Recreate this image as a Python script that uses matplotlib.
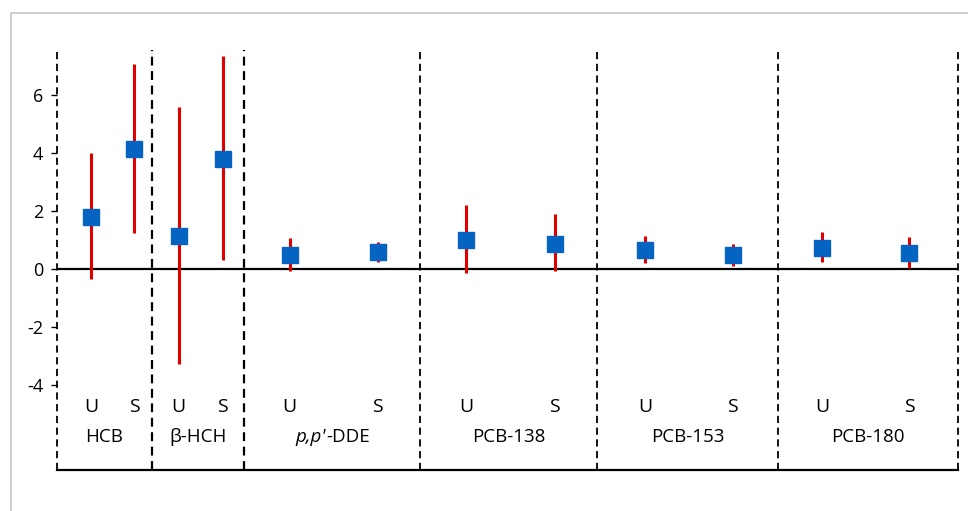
import matplotlib
matplotlib.use("Agg")
import matplotlib.pyplot as plt
from matplotlib.patches import Rectangle
from matplotlib.transforms import offset_copy

# data
groups = ["HCB", "β-HCH", "p,p'-DDE", "PCB-138", "PCB-153", "PCB-180"]
sub_labels = ["U", "S"]
mean_u = [1.8, 1.15, 0.48, 1.0, 0.65, 0.74]
low_u = [-0.35, -3.28, -0.07, -0.14, 0.2, 0.24]
high_u = [4.0, 5.6, 1.07, 2.2, 1.15, 1.28]
mean_s = [4.12, 3.8, 0.59, 0.86, 0.48, 0.55]
low_s = [1.24, 0.31, 0.25, -0.07, 0.12, 0.03]
high_s = [7.07, 7.34, 0.94, 1.9, 0.86, 1.12]
yticks = [-4, -2, 0, 2, 4, 6]

# layout: group edges along the x axis and where U / S sit inside each group
edges = [0, 95, 187, 363, 540, 721, 901]
frac_u = [0.36, 0.29, 0.26, 0.26, 0.265, 0.245]
frac_s = [0.81, 0.77, 0.76, 0.76, 0.75, 0.73]

plt.rcParams["font.family"] = ["Open Sans", "DejaVu Sans"]
plt.rcParams["axes.unicode_minus"] = False

fig = plt.figure(figsize=(9.68, 5.11), dpi=100)
fig.patches.append(Rectangle((11 / 968, -0.1), 1.2, 1.1 - 13 / 511,
                             transform=fig.transFigure, fill=False,
                             edgecolor="#c8c8c8", linewidth=1.2))
ax = fig.add_axes([57 / 968, 1 - 470 / 511, 901 / 968, 420 / 511])
ax.set_xlim(edges[0], edges[-1])
ax.set_ylim(-6.93, 7.55)

for s in ["top", "right", "left"]:
    ax.spines[s].set_visible(False)
ax.spines["bottom"].set_linewidth(1.6)
ax.axhline(0, color="black", linewidth=1.6, zorder=1)

for i, e in enumerate(edges):
    lw = 1.6 if i in (1, 2) else 1.3
    ax.axvline(e, color="black", linewidth=lw, linestyle=(0, (4, 2.5)),
               zorder=1, clip_on=False)

xu = [edges[i] + frac_u[i] * (edges[i + 1] - edges[i]) for i in range(len(groups))]
xs = [edges[i] + frac_s[i] * (edges[i + 1] - edges[i]) for i in range(len(groups))]

for x, lo, hi in zip(xu + xs, low_u + low_s, high_u + high_s):
    ax.vlines(x, lo, hi, color="#e00000", linewidth=2.2, zorder=2)
ax.plot(xu + xs, mean_u + mean_s, linestyle="none", marker="s", markersize=12,
        color="#0563c1", zorder=3)

for x in xu:
    ax.text(x, -4.76, sub_labels[0], ha="center", va="center", fontsize=14)
for x in xs:
    ax.text(x, -4.76, sub_labels[1], ha="center", va="center", fontsize=14)

renderer = fig.canvas.get_renderer()
for i, g in enumerate(groups):
    xc = (edges[i] + edges[i + 1]) / 2
    if "DDE" in g:
        # italic p,p' followed by upright -DDE, centred as one label
        head, tail = g.split("-", 1)
        t1 = ax.text(xc, -5.8, head, ha="left", va="center", fontsize=13.5,
                     style="italic")
        t2 = ax.text(xc, -5.8, "-" + tail, ha="left", va="center", fontsize=13.5)
        w1 = t1.get_window_extent(renderer).width
        w2 = t2.get_window_extent(renderer).width
        start = -(w1 + w2) / 2
        t1.set_transform(offset_copy(ax.transData, fig=fig, x=start, y=0, units="dots"))
        t2.set_transform(offset_copy(ax.transData, fig=fig, x=start + w1 + 1, y=0, units="dots"))
    else:
        ax.text(xc, -5.8, g, ha="center", va="center", fontsize=13.5)

ax.set_xticks([])
ax.set_yticks(yticks)
ax.set_yticklabels([str(t) for t in yticks], fontsize=13)
ax.tick_params(axis="y", direction="out", length=4, width=1, pad=6)

fig.savefig("out.png", dpi=100)
